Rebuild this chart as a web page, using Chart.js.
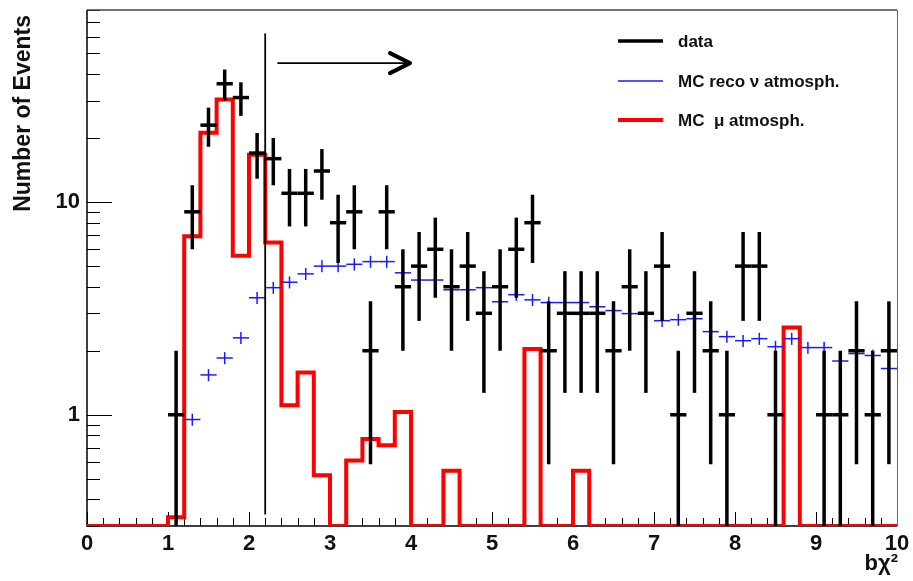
<!DOCTYPE html>
<html>
<head>
<meta charset="utf-8">
<title>b&chi;&sup2; distribution</title>
<script src="https://cdn.jsdelivr.net/npm/chart.js@4.4.1/dist/chart.umd.min.js"></script>
<style>
  html,body{margin:0;padding:0;background:#fff;}
  #wrap{position:relative;width:913px;height:581px;}
</style>
</head>
<body>
<div id="wrap"><canvas id="chart"></canvas></div>
<script>
'use strict';

/* ── binning / axis ranges ── */
const X_MIN = 0, X_MAX = 10, BIN_W = 0.2;
const Y_MIN = 0.3, Y_MAX = 80;

/* ── 50 bins of 0.2 each, starting at 0 ── */
const dataCounts = [
  0, 0, 0, 0, 0, 1, 9, 23, 36, 31,
  17, 16, 11, 11, 14, 8, 9, 2, 9, 4,
  5, 6, 4, 5, 3, 4, 6, 8, 2, 3,
  3, 3, 2, 4, 3, 5, 1, 3, 2, 1,
  5, 5, 1, 0, 0, 1, 1, 2, 1, 2
];

const mcNuReco = [
  null, null, null, null, null, null, 0.95, 1.54, 1.85, 2.3,
  3.55, 3.96, 4.2, 4.6, 5.0, 5.0, 5.1, 5.25, 5.25, 4.65,
  4.3, 4.3, 3.87, 3.87, 3.96, 3.4, 3.67, 3.47, 3.37, 3.37,
  3.37, 3.22, 3.09, 2.99, 2.99, 2.77, 2.8, 2.83, 2.46, 2.33,
  2.23, 2.28, 2.09, 2.28, 2.07, 2.07, 1.79, 1.94, 1.9, 1.65
];
const MC_REL_ERR = 0.065;

const mcMuAtm = [
  0, 0, 0, 0, 0, 0.33, 6.9, 21.2, 30.4, 5.6,
  16.7, 6.45, 1.11, 1.58, 0.52, 0, 0.61, 0.77, 0.72, 1.03,
  0, 0, 0.545, 0, 0, 0, 0, 2.04, 0, 0,
  0.545, 0, 0, 0, 0, 0, 0, 0, 0, 0,
  0, 0, 0, 2.57, 0, 0, 0, 0, 0, 0
];

/* ── axis ticks ── */
const yTicks = [0.3, 0.4, 0.5, 0.6, 0.7, 0.8, 0.9,
  1, 2, 3, 4, 5, 6, 7, 8, 9,
  10, 20, 30, 40, 50, 60, 70, 80];
const yLabelled = [1, 10];
const xMajorStep = 1;

/* ── selection cut ── */
const cutX = 2.2, cutYLo = 0.34, cutYHi = 62;
const arrowX0 = 2.35, arrowX1 = 4.0, arrowY = 45;

/* ── legend ── */
const legendItems = [
  {text: 'data', color: '#000', width: 3.5},
  {text: 'MC reco \u03bd atmosph.', color: '#1a1aff', width: 1.5},
  {text: 'MC  \u03bc atmosph.', color: '#ff0000', width: 4}
];

const FONT = '"Liberation Sans", Arial, Helvetica, sans-serif';
const BLUE = '#1a1aff';

/* ── build datasets ── */
const binCenter = i => X_MIN + BIN_W * (i + 0.5);

const dataErr = [], dataPts = [];
dataCounts.forEach((n, i) => {
  if (!n) return;
  const e = Math.sqrt(n);
  dataErr.push({x: binCenter(i), y: [Math.max(n - e, Y_MIN), n + e]});
  dataPts.push({x: binCenter(i), y: n});
});

const nuErr = [], nuPts = [];
mcNuReco.forEach((v, i) => {
  if (v == null) return;
  nuErr.push({x: binCenter(i), y: [v * (1 - MC_REL_ERR), v * (1 + MC_REL_ERR)]});
  nuPts.push({x: binCenter(i), y: v});
});

// step outline: one point per lower bin edge, empty bins sit on the frame bottom
const muSteps = mcMuAtm.map((v, i) => ({x: X_MIN + BIN_W * i, y: Math.max(v, Y_MIN)}));
muSteps.push({x: X_MAX, y: Math.max(mcMuAtm[mcMuAtm.length - 1], Y_MIN)});

const halfBin = ctx => {
  const s = ctx.chart.scales.x;
  return (s.getPixelForValue(BIN_W) - s.getPixelForValue(0)) / 2;
};

/* ── frame, inward ticks, titles ── */
const framePlugin = {
  id: 'frame',
  beforeDatasetsDraw(chart) {
    const {ctx, chartArea: a, scales: {x, y}} = chart;
    ctx.save();
    ctx.strokeStyle = '#000';
    ctx.lineWidth = 1;
    ctx.beginPath();
    for (let i = 0; i <= Math.round((X_MAX - X_MIN) / BIN_W); i++) {
      const v = X_MIN + i * BIN_W;
      const px = Math.round(x.getPixelForValue(v)) + 0.5;
      const len = (i % 5 === 0) ? 14 : 8;
      ctx.moveTo(px, a.bottom);
      ctx.lineTo(px, a.bottom - len);
    }
    yTicks.forEach(v => {
      const py = Math.round(y.getPixelForValue(v)) + 0.5;
      const len = yLabelled.includes(v) ? 25 : 13;
      ctx.moveTo(a.left, py);
      ctx.lineTo(a.left + len, py);
    });
    ctx.stroke();

    // top and right edges
    ctx.lineWidth = 1.5;
    ctx.strokeStyle = '#444';
    ctx.beginPath();
    ctx.moveTo(a.left, a.top);
    ctx.lineTo(a.right, a.top);
    ctx.stroke();
    ctx.lineWidth = 1;
    ctx.strokeStyle = '#d83a3a';
    ctx.beginPath();
    ctx.moveTo(a.right + 0.5, a.top);
    ctx.lineTo(a.right + 0.5, a.bottom);
    ctx.stroke();

    // axes
    ctx.lineWidth = 1.5;
    ctx.strokeStyle = '#000';
    ctx.beginPath();
    ctx.moveTo(a.left, a.top);
    ctx.lineTo(a.left, a.bottom);
    ctx.lineTo(a.right, a.bottom);
    ctx.stroke();

    // axis titles
    ctx.fillStyle = '#111';
    ctx.font = 'bold 23px ' + FONT;
    ctx.textBaseline = 'middle';
    ctx.save();
    ctx.translate(24, 15);
    ctx.rotate(-Math.PI / 2);
    ctx.textAlign = 'right';
    ctx.fillText('Number of Events', 0, 0);
    ctx.restore();
    ctx.font = 'bold 22px ' + FONT;
    ctx.textAlign = 'right';
    ctx.fillText('b\u03c7\u00b2', a.right + 1, 564);
    ctx.restore();
  },
  afterDatasetsDraw(chart) {
    const {ctx, scales: {x, y}} = chart;
    ctx.save();
    // cut line
    const cx = x.getPixelForValue(cutX);
    ctx.strokeStyle = '#000';
    ctx.lineWidth = 1.8;
    ctx.beginPath();
    ctx.moveTo(cx, y.getPixelForValue(cutYHi));
    ctx.lineTo(cx, y.getPixelForValue(cutYLo));
    ctx.stroke();

    // arrow
    const ay = y.getPixelForValue(arrowY);
    const ax0 = x.getPixelForValue(arrowX0), ax1 = x.getPixelForValue(arrowX1);
    ctx.lineWidth = 1.8;
    ctx.beginPath();
    ctx.moveTo(ax0, ay);
    ctx.lineTo(ax1 - 2, ay);
    ctx.stroke();
    ctx.lineWidth = 4;
    ctx.lineCap = 'round';
    ctx.lineJoin = 'round';
    ctx.beginPath();
    ctx.moveTo(ax1 - 21, ay - 10);
    ctx.lineTo(ax1 - 1, ay);
    ctx.lineTo(ax1 - 21, ay + 10);
    ctx.stroke();

    // legend
    ctx.lineCap = 'butt';
    ctx.font = 'bold 17px ' + FONT;
    ctx.textAlign = 'left';
    ctx.textBaseline = 'middle';
    const rows = [41, 81, 120];
    legendItems.forEach((it, i) => {
      ctx.strokeStyle = it.color;
      ctx.lineWidth = it.width;
      ctx.beginPath();
      ctx.moveTo(618, rows[i]);
      ctx.lineTo(663, rows[i]);
      ctx.stroke();
      ctx.fillStyle = '#111';
      ctx.fillText(it.text, 678, rows[i] + 1);
    });
    ctx.restore();
  }
};

const chart = new Chart(document.getElementById('chart'), {
  type: 'line',
  data: {
    datasets: [
      {
        label: 'data', type: 'bar', data: dataErr, order: 0,
        backgroundColor: '#000', borderWidth: 0,
        grouped: false, maxBarThickness: 3.5
      },
      {
        label: 'data', type: 'line', data: dataPts, order: 1,
        showLine: false, pointStyle: 'line', pointRadius: halfBin,
        borderColor: '#000', pointBorderWidth: 3.5
      },
      {
        label: 'MC reco \u03bd atmosph.', type: 'bar', data: nuErr, order: 2,
        backgroundColor: BLUE, borderWidth: 0,
        grouped: false, maxBarThickness: 1.5
      },
      {
        label: 'MC reco \u03bd atmosph.', type: 'line', data: nuPts, order: 3,
        showLine: false, pointStyle: 'line', pointRadius: halfBin,
        borderColor: BLUE, pointBorderWidth: 1.5
      },
      {
        label: 'MC \u03bc atmosph.', type: 'line', data: muSteps, order: 4,
        stepped: 'before', borderColor: '#ff0000', borderWidth: 4,
        pointRadius: 0, fill: false, borderJoinStyle: 'miter'
      }
    ]
  },
  options: {
    responsive: true,
    maintainAspectRatio: false,
    animation: false,
    layout: {autoPadding: false, padding: {left: 0, top: 10, right: 16, bottom: 0}},
    plugins: {legend: {display: false}, tooltip: {enabled: false}},
    scales: {
      x: {
        type: 'linear', min: X_MIN, max: X_MAX, offset: false,
        grid: {display: false, drawTicks: false, offset: false},
        border: {display: false},
        ticks: {
          stepSize: xMajorStep, padding: 5, color: '#111',
          font: {family: FONT, size: 22, weight: 'bold'}
        },
        afterFit(s) { s.height = 55; s.paddingLeft = 0; s.paddingRight = 0; }
      },
      y: {
        type: 'logarithmic', min: Y_MIN, max: Y_MAX,
        grid: {display: false, drawTicks: false},
        border: {display: false},
        afterBuildTicks(s) { s.ticks = yTicks.map(v => ({value: v})); },
        ticks: {
          autoSkip: false, padding: 7, color: '#111',
          font: {family: FONT, size: 22, weight: 'bold'},
          callback: v => yLabelled.includes(v) ? String(v) : ''
        },
        afterFit(s) { s.width = 87; s.paddingTop = 0; s.paddingBottom = 0; }
      }
    }
  },
  plugins: [framePlugin]
});
</script>
</body>
</html>
